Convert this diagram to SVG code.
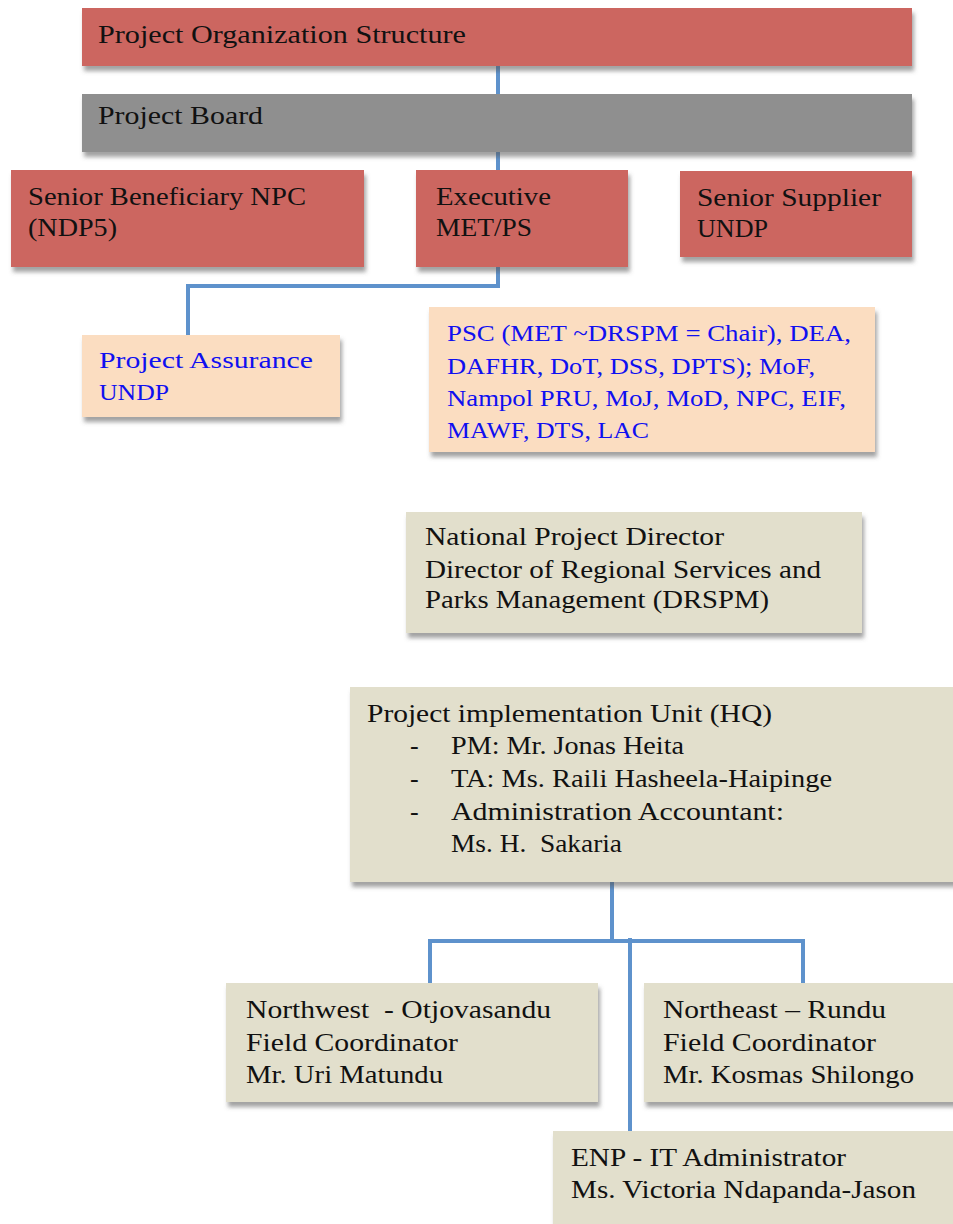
<svg xmlns="http://www.w3.org/2000/svg" width="953" height="1224" viewBox="0 0 953 1224">
<defs>
<filter id="sh" x="-5%" y="-10%" width="115%" height="135%">
<feDropShadow dx="2" dy="5" stdDeviation="2" flood-color="#555" flood-opacity="0.55"/>
</filter>
<style>
.red{fill:#CC6660}
.gray{fill:#8F8F8F}
.peach{fill:#FBDDC1}
.khaki{fill:#E2DFCC}
.t{font-family:"Liberation Serif","Times New Roman",serif;font-size:26px;fill:#111}
.b{font-family:"Liberation Serif","Times New Roman",serif;font-size:24px;fill:#1010F0}
.c{fill:none;stroke:#5E92CC;stroke-width:4}
</style>
</defs>
<rect width="953" height="1224" fill="#fff"/>
<g id="connectors">
<path class="c" d="M498 66V94"/>
<path class="c" d="M498 152V170"/>
<path class="c" d="M498 267V286H188V335"/>
<path class="c" d="M612 882V941"/>
<path class="c" d="M430 983V941H803V983"/>
<path class="c" d="M630 938V1131"/>
</g>
<g id="title">
<rect class="red" x="82" y="8" width="830" height="58" filter="url(#sh)"/>
<text class="t" x="98" y="43" textLength="368" lengthAdjust="spacingAndGlyphs">Project Organization Structure</text>
</g>
<g id="board">
<rect class="gray" x="82" y="94" width="830" height="58" filter="url(#sh)"/>
<text class="t" x="98" y="124" textLength="165" lengthAdjust="spacingAndGlyphs">Project Board</text>
</g>
<g id="beneficiary">
<rect class="red" x="11" y="170" width="353" height="97" filter="url(#sh)"/>
<text class="t" x="28" y="205" textLength="278" lengthAdjust="spacingAndGlyphs">Senior Beneficiary NPC</text>
<text class="t" x="28" y="236" textLength="89" lengthAdjust="spacingAndGlyphs">(NDP5)</text>
</g>
<g id="executive">
<rect class="red" x="416" y="170" width="212" height="97" filter="url(#sh)"/>
<text class="t" x="436" y="205" textLength="115" lengthAdjust="spacingAndGlyphs">Executive</text>
<text class="t" x="436" y="236" textLength="96" lengthAdjust="spacingAndGlyphs">MET/PS</text>
</g>
<g id="supplier">
<rect class="red" x="680" y="171" width="232" height="86" filter="url(#sh)"/>
<text class="t" x="697" y="206" textLength="184" lengthAdjust="spacingAndGlyphs">Senior Supplier</text>
<text class="t" x="697" y="237" textLength="71" lengthAdjust="spacingAndGlyphs">UNDP</text>
</g>
<g id="assurance">
<rect class="peach" x="82" y="335" width="258" height="82" filter="url(#sh)"/>
<text class="b" x="99" y="368" textLength="214" lengthAdjust="spacingAndGlyphs">Project Assurance</text>
<text class="b" x="99" y="400" textLength="70" lengthAdjust="spacingAndGlyphs">UNDP</text>
</g>
<g id="psc">
<rect class="peach" x="429" y="307" width="446" height="145" filter="url(#sh)"/>
<text class="b" x="447" y="341" textLength="404" lengthAdjust="spacingAndGlyphs">PSC (MET ~DRSPM = Chair), DEA,</text>
<text class="b" x="447" y="374" textLength="368" lengthAdjust="spacingAndGlyphs">DAFHR, DoT, DSS, DPTS); MoF,</text>
<text class="b" x="447" y="406" textLength="399" lengthAdjust="spacingAndGlyphs">Nampol PRU, MoJ, MoD, NPC, EIF,</text>
<text class="b" x="447" y="438" textLength="202" lengthAdjust="spacingAndGlyphs">MAWF, DTS, LAC</text>
</g>
<g id="npd">
<rect class="khaki" x="406" y="512" width="456" height="121" filter="url(#sh)"/>
<text class="t" x="425" y="545" textLength="299" lengthAdjust="spacingAndGlyphs">National Project Director</text>
<text class="t" x="425" y="578" textLength="396" lengthAdjust="spacingAndGlyphs">Director of Regional Services and</text>
<text class="t" x="425" y="608" textLength="344" lengthAdjust="spacingAndGlyphs">Parks Management (DRSPM)</text>
</g>
<g id="piu">
<rect class="khaki" x="350" y="687" width="610" height="195" filter="url(#sh)"/>
<text class="t" x="367" y="722" textLength="405" lengthAdjust="spacingAndGlyphs">Project implementation Unit (HQ)</text>
<text class="t" x="410" y="754">-</text>
<text class="t" x="451" y="754" textLength="233" lengthAdjust="spacingAndGlyphs">PM: Mr. Jonas Heita</text>
<text class="t" x="410" y="787">-</text>
<text class="t" x="451" y="787" textLength="381" lengthAdjust="spacingAndGlyphs">TA: Ms. Raili Hasheela-Haipinge</text>
<text class="t" x="410" y="820">-</text>
<text class="t" x="451" y="820" textLength="333" lengthAdjust="spacingAndGlyphs">Administration Accountant:</text>
<text class="t" x="451" y="852" textLength="171" lengthAdjust="spacingAndGlyphs" xml:space="preserve">Ms. H.  Sakaria</text>
</g>
<g id="northwest">
<rect class="khaki" x="226" y="983" width="372" height="119" filter="url(#sh)"/>
<text class="t" x="246" y="1018" textLength="305" lengthAdjust="spacingAndGlyphs" xml:space="preserve">Northwest  - Otjovasandu</text>
<text class="t" x="246" y="1051" textLength="212" lengthAdjust="spacingAndGlyphs">Field Coordinator</text>
<text class="t" x="246" y="1083" textLength="197" lengthAdjust="spacingAndGlyphs">Mr. Uri Matundu</text>
</g>
<g id="northeast">
<rect class="khaki" x="644" y="983" width="320" height="119" filter="url(#sh)"/>
<text class="t" x="663" y="1018" textLength="223" lengthAdjust="spacingAndGlyphs">Northeast – Rundu</text>
<text class="t" x="663" y="1051" textLength="213" lengthAdjust="spacingAndGlyphs">Field Coordinator</text>
<text class="t" x="663" y="1083" textLength="251" lengthAdjust="spacingAndGlyphs">Mr. Kosmas Shilongo</text>
</g>
<g id="enp">
<rect class="khaki" x="553" y="1131" width="410" height="100" filter="url(#sh)"/>
<text class="t" x="571" y="1166" textLength="275" lengthAdjust="spacingAndGlyphs">ENP - IT Administrator</text>
<text class="t" x="571" y="1198" textLength="345" lengthAdjust="spacingAndGlyphs">Ms. Victoria Ndapanda-Jason</text>
</g>
</svg>
